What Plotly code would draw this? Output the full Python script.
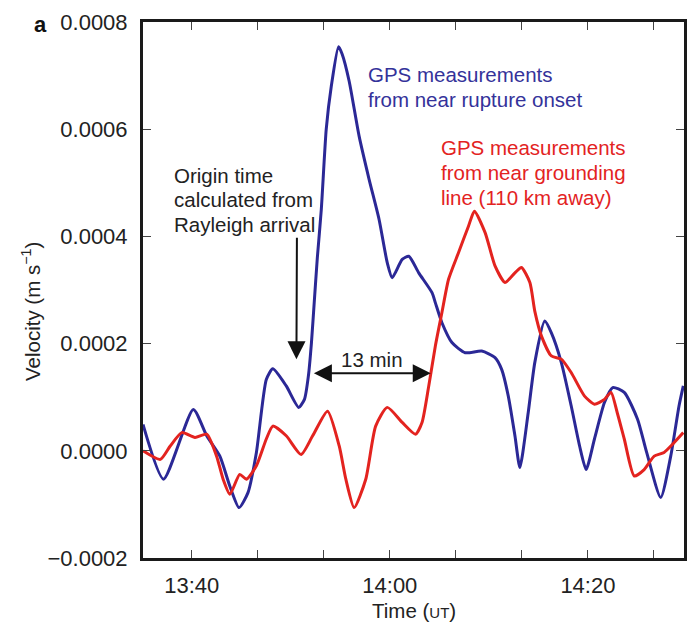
import plotly.graph_objects as go

# time in minutes after 13:00 UT, velocity in m/s
blue_t = [35.08, 37.15, 40.16, 41.51, 42.84, 43.85, 44.78, 45.68, 46.53, 47.53, 48.19,
          49.54, 50.80, 51.38, 51.78, 52.08, 52.38, 52.68, 53.08, 53.58, 54.09, 54.82,
          55.19, 55.89, 56.90, 57.90, 58.91, 59.74, 60.24, 61.25, 61.92, 62.92, 64.26,
          64.60, 65.26, 66.27, 67.61, 69.28, 70.62, 71.29, 71.96, 72.63, 73.13, 73.97,
          74.64, 75.64, 76.31, 77.31, 78.31, 79.16, 79.82, 80.66, 81.67, 82.50, 83.67,
          85.01, 85.93, 87.35, 88.36, 89.20, 89.63]
blue_v = [0.000049, -0.000053, 0.000077, 0.000028, -0.000010, -0.000066, -0.000106,
          -0.000078, -0.000003, 0.000133, 0.000153, 0.000121, 0.000081, 0.000096,
          0.000140, 0.000200, 0.000280, 0.000360, 0.000450, 0.000600, 0.000680,
          0.000754, 0.000740, 0.000690, 0.000587, 0.000507, 0.000432, 0.000351,
          0.000323, 0.000357, 0.000363, 0.000332, 0.000295, 0.000276, 0.000239,
          0.000202, 0.000183, 0.000186, 0.000174, 0.000152, 0.000102, 0.000028,
          -0.000031, 0.000071, 0.000165, 0.000242, 0.000220, 0.000165, 0.000084,
          0.000009, -0.000035, 0.000022, 0.000090, 0.000118, 0.000109, 0.000059,
          -0.000003, -0.000087, -0.000010, 0.000084, 0.000121]

red_t = [35.08, 36.83, 37.83, 39.00, 40.33, 41.51, 42.51, 43.17, 43.85, 44.85, 45.52,
         46.53, 47.53, 48.19, 49.54, 51.04, 52.21, 53.71, 54.89, 55.56, 56.40, 57.57,
         58.57, 59.74, 61.25, 62.59, 63.25, 63.93, 64.60, 65.26, 65.93, 66.94, 67.94,
         68.54, 69.62, 70.62, 71.63, 72.63, 73.29, 74.14, 74.64, 75.31, 76.31, 77.31,
         78.31, 79.66, 80.66, 81.67, 82.33, 82.96, 83.67, 84.68, 85.68, 86.69, 87.69,
         88.69, 89.63]
red_v = [0.000000, -0.000016, 0.000009, 0.000034, 0.000025, 0.000031, -0.000010,
         -0.000053, -0.000081, -0.000044, -0.000053, -0.000028, 0.000022, 0.000046,
         0.000028, -0.000007, 0.000028, 0.000074, 0.000009, -0.000053, -0.000106,
         -0.000053, 0.000046, 0.000081, 0.000053, 0.000031, 0.000053, 0.000121,
         0.000196, 0.000258, 0.000320, 0.000370, 0.000419, 0.000447, 0.000407,
         0.000345, 0.000314, 0.000332, 0.000342, 0.000314, 0.000260, 0.000214,
         0.000177, 0.000171, 0.000146, 0.000102, 0.000087, 0.000096, 0.000109,
         0.000071, 0.000022, -0.000047, -0.000035, -0.000010, -0.000003, 0.000015,
         0.000034]

x_tick_vals = [40, 46.667, 53.333, 60, 66.667, 73.333, 80, 86.667]
x_tick_text = ["13:40", "", "", "14:00", "", "", "14:20", ""]
y_tick_vals = [-0.0002, 0.0, 0.0002, 0.0004, 0.0006, 0.0008]
y_tick_text = ["\u22120.0002", "0.0000", "0.0002", "0.0004", "0.0006", "0.0008"]

BLUE = "#2b2896"
RED = "#e3231f"
INK = "#222222"
FONT = "Liberation Sans, Arial, sans-serif"

fig = go.Figure()
fig.add_trace(go.Scatter(x=blue_t, y=blue_v, mode="lines",
                         line=dict(color=BLUE, width=3, shape="spline", smoothing=0.6)))
fig.add_trace(go.Scatter(x=red_t, y=red_v, mode="lines",
                         line=dict(color=RED, width=3, shape="spline", smoothing=0.6)))

axis_common = dict(showline=True, linecolor="#1a1a1a", linewidth=3, mirror="ticks",
                   ticks="inside", ticklen=8, tickwidth=1, tickcolor="#444",
                   showgrid=False, zeroline=False,
                   tickfont=dict(family=FONT, size=22, color=INK))

fig.update_xaxes(range=[35.08, 89.70], tickmode="array", tickvals=x_tick_vals,
                 ticktext=x_tick_text, ticklabelstandoff=6, **axis_common)
fig.update_yaxes(range=[-0.0002, 0.0008], tickmode="array", tickvals=y_tick_vals,
                 ticktext=y_tick_text, ticklabelstandoff=8, **axis_common)

ann = []
def txt(text, x, y, color, size=20.5, xanchor="left", **kw):
    d = dict(text=text, x=x, y=y, xref="x", yref="y", showarrow=False,
             xanchor=xanchor, yanchor="middle",
             font=dict(family=FONT, size=size, color=color))
    d.update(kw)
    ann.append(d)

# blue label
txt("GPS measurements", 57.57, 0.0007024, "#34329a")
txt("from near rupture onset", 57.57, 0.0006558, "#34329a")
# red label
txt("GPS measurements", 65.0, 0.0005662, RED)
txt("from near grounding", 65.0, 0.0005196, RED)
txt("line (110 km away)", 65.0, 0.000473, RED)
# black label
txt("Origin time", 37.99, 0.0005127, INK)
txt("calculated from", 37.99, 0.0004692, INK)
txt("Rayleigh arrival", 37.99, 0.0004226, INK)
txt("13 min", 58.15, 0.0001707, INK, xanchor="center")

# arrows
ann.append(dict(x=50.57, y=0.0001707, ax=50.62, ay=0.0004002, xref="x", yref="y",
                axref="x", ayref="y", showarrow=True, arrowhead=2, arrowsize=1.8,
                arrowwidth=2, arrowcolor="#111", text=""))
ann.append(dict(x=64.13, y=0.0001446, ax=52.18, ay=0.0001446, xref="x", yref="y",
                axref="x", ayref="y", showarrow=True, arrowhead=2, arrowsize=1.8,
                arrowwidth=2, arrowcolor="#111", arrowside="end+start", text=""))

# axis titles and panel letter
ann.append(dict(text="Time (<span style='font-size:15px'>UT</span>)", x=0.5, y=0,
                xref="paper", yref="paper", yshift=-52, showarrow=False,
                xanchor="center", yanchor="middle",
                font=dict(family=FONT, size=20.5, color=INK)))
ann.append(dict(text="Velocity (m s<sup>\u22121</sup>)", x=0, y=0.459,
                xref="paper", yref="paper", xshift=-112, showarrow=False,
                xanchor="center", yanchor="middle", textangle=-90,
                font=dict(family=FONT, size=20.5, color=INK)))
ann.append(dict(text="<b>a</b>", x=0, y=1, xref="paper", yref="paper",
                xshift=-103, yshift=-2, showarrow=False,
                xanchor="center", yanchor="middle",
                font=dict(family=FONT, size=22, color="#111")))

fig.update_layout(width=691, height=630, margin=dict(l=143, r=4, t=22, b=72),
                  paper_bgcolor="white", plot_bgcolor="white", showlegend=False,
                  annotations=ann)

fig.write_html("out.html")
